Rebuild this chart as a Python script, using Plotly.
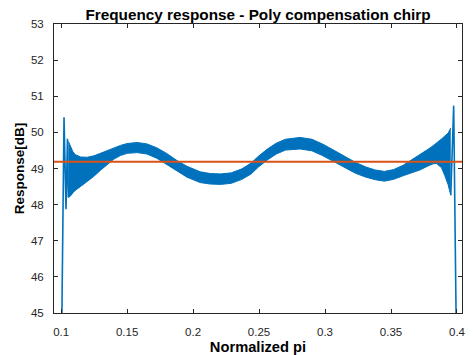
import plotly.graph_objects as go

# ---- data ----
band_x = [0.1055, 0.1071, 0.1090, 0.1109, 0.1147, 0.1197, 0.1247, 0.1298, 0.1350, 0.1400,
          0.1450, 0.1500, 0.1576, 0.1651, 0.1727, 0.1803, 0.1878, 0.1954, 0.2054, 0.2130,
          0.2210, 0.2290, 0.2370, 0.2440, 0.2495, 0.2560, 0.2630, 0.2700, 0.2810, 0.2900,
          0.2980, 0.3060, 0.3151, 0.3230, 0.3310, 0.3380, 0.3450, 0.3520, 0.3592, 0.3650,
          0.3719, 0.3780, 0.3819, 0.3845, 0.3883, 0.3908, 0.3933, 0.3953]
band_upper = [49.75, 49.62, 49.46, 49.38, 49.32, 49.31, 49.35, 49.42, 49.50, 49.57,
              49.64, 49.69, 49.72, 49.68, 49.57, 49.41, 49.22, 49.06, 48.91, 48.86,
              48.85, 48.88, 48.99, 49.15, 49.34, 49.53, 49.70, 49.81, 49.86, 49.81,
              49.68, 49.52, 49.34, 49.17, 49.04, 48.96, 48.92, 48.97, 49.09, 49.22,
              49.37, 49.53, 49.63, 49.70, 49.82, 49.90, 49.98, 50.12]
band_lower = [48.20, 48.24, 48.33, 48.40, 48.50, 48.64, 48.78, 48.95, 49.12, 49.26,
              49.36, 49.42, 49.44, 49.40, 49.28, 49.11, 48.92, 48.76, 48.61, 48.57,
              48.56, 48.59, 48.70, 48.85, 49.04, 49.23, 49.40, 49.51, 49.54, 49.49,
              49.36, 49.21, 49.04, 48.87, 48.76, 48.69, 48.65, 48.70, 48.80, 48.88,
              48.96, 49.07, 49.13, 49.14, 49.02, 48.80, 48.55, 48.26]

left_edge_x = [0.1003, 0.1022, 0.1037, 0.1048, 0.1055]
left_edge_y = [44.0, 50.42, 47.87, 49.82, 48.20]
right_edge_x = [0.3953, 0.3975, 0.3996]
right_edge_y = [48.26, 50.74, 44.0]

ref_x = [0.0946, 0.4038]
ref_y = [49.19, 49.19]

x_ticks = [0.1, 0.15, 0.2, 0.25, 0.3, 0.35, 0.4]
x_tick_text = ["0.1", "0.15", "0.2", "0.25", "0.3", "0.35", "0.4"]
y_ticks = [45, 46, 47, 48, 49, 50, 51, 52, 53]

BLUE = "#0072BD"
ORANGE = "#D95319"
AX = "#262626"
FONT = "Liberation Sans, Arial, sans-serif"

fig = go.Figure()
fig.add_trace(go.Scatter(x=band_x, y=band_lower, mode="lines",
                         line=dict(color=BLUE, width=1), showlegend=False, hoverinfo="skip"))
fig.add_trace(go.Scatter(x=band_x, y=band_upper, mode="lines", fill="tonexty",
                         fillcolor=BLUE, line=dict(color=BLUE, width=1),
                         showlegend=False, hoverinfo="skip"))
fig.add_trace(go.Scatter(x=left_edge_x, y=left_edge_y, mode="lines",
                         line=dict(color=BLUE, width=1.6), showlegend=False))
fig.add_trace(go.Scatter(x=right_edge_x, y=right_edge_y, mode="lines",
                         line=dict(color=BLUE, width=1.6), showlegend=False))
fig.add_trace(go.Scatter(x=ref_x, y=ref_y, mode="lines",
                         line=dict(color=ORANGE, width=2), showlegend=False))

fig.update_layout(
    width=473, height=355,
    margin=dict(l=54, r=11, t=24, b=42),
    paper_bgcolor="white", plot_bgcolor="white",
    font=dict(family=FONT, color=AX),
    title=dict(text="<b>Frequency response - Poly compensation chirp</b>",
               x=0.5, xanchor="center", xref="paper",
               y=1 - 15 / 355, yanchor="middle", yref="container",
               font=dict(size=15.3, color="black")),
)
fig.update_xaxes(range=[0.0946, 0.4038], tickvals=x_ticks, ticktext=x_tick_text,
                 showgrid=False, zeroline=False, showline=True, linecolor=AX, linewidth=1,
                 mirror="ticks", ticks="inside", ticklen=4, tickcolor=AX, automargin=False,
                 tickfont=dict(size=11.5, color=AX), ticklabelstandoff=8,
                 title=dict(text="<b>Normalized pi</b>", standoff=4,
                            font=dict(size=14.7, color="black")))
fig.update_yaxes(range=[45, 53], tickvals=y_ticks,
                 showgrid=False, zeroline=False, showline=True, linecolor=AX, linewidth=1,
                 mirror="ticks", ticks="inside", ticklen=4, tickcolor=AX, automargin=False,
                 tickfont=dict(size=11.5, color=AX), ticklabelstandoff=7,
                 title=dict(text="<b>Response[dB]</b>", standoff=3,
                            font=dict(size=13.5, color="black")))

fig.write_html("out.html")
